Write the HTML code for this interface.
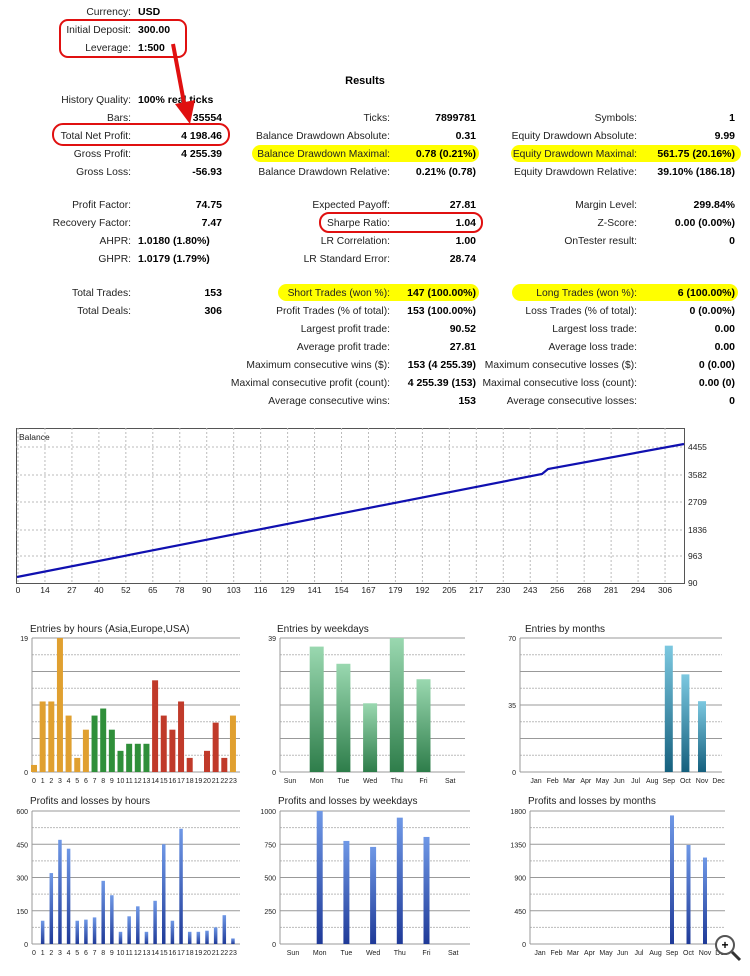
<!DOCTYPE html>
<html><head><meta charset="utf-8"><style>
html,body{margin:0;padding:0;background:#fff;width:750px;height:976px;overflow:hidden}
svg{display:block;font-family:"Liberation Sans",sans-serif}
.l{font-size:10.3px;fill:#222;text-anchor:end}
.v{font-size:10.5px;fill:#000;font-weight:bold;text-anchor:end}
.vl{font-size:10.5px;fill:#000;font-weight:bold}
.t{font-size:8.5px;fill:#222}
.ct{font-size:10px;fill:#222}
</style></head><body>
<svg id="s" width="750" height="976" viewBox="0 0 750 976" xmlns="http://www.w3.org/2000/svg">
<defs>
<linearGradient id="gg" x1="0" y1="0" x2="0" y2="1"><stop offset="0" stop-color="#9ad8b0"/><stop offset="1" stop-color="#2e7d4a"/></linearGradient>
<linearGradient id="gt" x1="0" y1="0" x2="0" y2="1"><stop offset="0" stop-color="#7cc8e0"/><stop offset="1" stop-color="#15607e"/></linearGradient>
<linearGradient id="gb" x1="0" y1="0" x2="0" y2="1"><stop offset="0" stop-color="#6f98e6"/><stop offset="1" stop-color="#1f3a98"/></linearGradient>
</defs>
<rect x="252" y="145" width="227" height="17" rx="8.5" fill="#ffff00"/>
<rect x="511" y="145" width="230" height="17" rx="8.5" fill="#ffff00"/>
<rect x="278" y="284" width="201" height="17" rx="8.5" fill="#ffff00"/>
<rect x="512" y="284" width="226" height="17" rx="8.5" fill="#ffff00"/>
<g id="txt"></g>
<text x="365" y="84" style="font-size:11px;font-weight:bold" text-anchor="middle">Results</text>
<rect x="60" y="20" width="126" height="37" rx="8" fill="none" stroke="#e01010" stroke-width="2"/>
<rect x="53" y="124" width="176" height="21" rx="10" fill="none" stroke="#e01010" stroke-width="2"/>
<rect x="320" y="213" width="162" height="19" rx="9" fill="none" stroke="#e01010" stroke-width="2"/>
<line x1="173" y1="44" x2="185" y2="108" stroke="#e01010" stroke-width="4"/>
<polygon points="175,104 195,100 190,124" fill="#e01010"/>
<g id="ch"></g>
</svg>
<script>
var NS="http://www.w3.org/2000/svg";
function el(p,n,a,tx){var e=document.createElementNS(NS,n);for(var k in a)e.setAttribute(k,a[k]);if(tx!=null)e.textContent=tx;p.appendChild(e);return e;}
var T=document.getElementById('txt'),C=document.getElementById('ch');
function L(x,y,s){el(T,'text',{x:x,y:y+4,'class':'l'},s);}
function V(x,y,s){el(T,'text',{x:x,y:y+4,'class':'v'},s);}
function VL(x,y,s){el(T,'text',{x:x,y:y+4,'class':'vl'},s);}
L(131,11,'Currency:');VL(138,11,'USD');
L(131,29,'Initial Deposit:');VL(138,29,'300.00');
L(131,47,'Leverage:');VL(138,47,'1:500');
L(131,99,'History Quality:');VL(138,99,'100% real ticks');
var c1=[[117,'Bars:','35554'],[135,'Total Net Profit:','4 198.46'],[153,'Gross Profit:','4 255.39'],[171,'Gross Loss:','-56.93'],[204,'Profit Factor:','74.75'],[222,'Recovery Factor:','7.47'],[292,'Total Trades:','153'],[310,'Total Deals:','306']];
c1.forEach(function(r){L(131,r[0],r[1]);V(222,r[0],r[2]);});
L(131,240,'AHPR:');VL(138,240,'1.0180 (1.80%)');
L(131,258,'GHPR:');VL(138,258,'1.0179 (1.79%)');
var c2=[[117,'Ticks:','7899781'],[135,'Balance Drawdown Absolute:','0.31'],[153,'Balance Drawdown Maximal:','0.78 (0.21%)'],[171,'Balance Drawdown Relative:','0.21% (0.78)'],[204,'Expected Payoff:','27.81'],[222,'Sharpe Ratio:','1.04'],[240,'LR Correlation:','1.00'],[258,'LR Standard Error:','28.74'],
[292,'Short Trades (won %):','147 (100.00%)'],[310,'Profit Trades (% of total):','153 (100.00%)'],[328,'Largest profit trade:','90.52'],[346,'Average profit trade:','27.81'],[364,'Maximum consecutive wins ($):','153 (4 255.39)'],[382,'Maximal consecutive profit (count):','4 255.39 (153)'],[400,'Average consecutive wins:','153']];
c2.forEach(function(r){L(390,r[0],r[1]);V(476,r[0],r[2]);});
var c3=[[117,'Symbols:','1'],[135,'Equity Drawdown Absolute:','9.99'],[153,'Equity Drawdown Maximal:','561.75 (20.16%)'],[171,'Equity Drawdown Relative:','39.10% (186.18)'],[204,'Margin Level:','299.84%'],[222,'Z-Score:','0.00 (0.00%)'],[240,'OnTester result:','0'],
[292,'Long Trades (won %):','6 (100.00%)'],[310,'Loss Trades (% of total):','0 (0.00%)'],[328,'Largest loss trade:','0.00'],[346,'Average loss trade:','0.00'],[364,'Maximum consecutive losses ($):','0 (0.00)'],[382,'Maximal consecutive loss (count):','0.00 (0)'],[400,'Average consecutive losses:','0']];
c3.forEach(function(r){L(637,r[0],r[1]);V(735,r[0],r[2]);});

var bx0=16,bx1=684,by0=428,by1=583;
el(C,'rect',{x:bx0+.5,y:by0+.5,width:bx1-bx0,height:by1-by0,fill:'#fff',stroke:'#555'});
var xl=[0,14,27,40,52,65,78,90,103,116,129,141,154,167,179,192,205,217,230,243,256,268,281,294,306];
xl.forEach(function(v,i){var x=18+i*26.96;el(C,'line',{x1:x,y1:by0,x2:x,y2:by1,stroke:'#bbb','stroke-dasharray':'2,2'});el(C,'text',{x:x,y:593,'class':'t','text-anchor':'middle'},v);});
var yl=[[4455,447],[3582,475],[2709,502],[1836,530],[963,556],[90,583]];
yl.forEach(function(r){if(r[1]<583)el(C,'line',{x1:bx0,y1:r[1],x2:bx1,y2:r[1],stroke:'#bbb','stroke-dasharray':'2,2'});el(C,'text',{x:688,y:r[1]+3,'class':'t'},r[0]);});
el(C,'text',{x:19,y:440,'class':'t'},'Balance');
el(C,'polyline',{points:'17,577 542,474 548,469 684,444',fill:'none',stroke:'#1010b0','stroke-width':2.2});

function bar(o){
  el(C,'text',{x:o.tx,y:o.ty,'class':'ct'},o.title);
  for(var i=0;i<=8;i++){var y=o.y0+(o.y1-o.y0)*i/8;el(C,'line',{x1:o.x0,y1:y,x2:o.x1,y2:y,stroke:i%2?'#bbb':'#999','stroke-dasharray':i%2?'2,1':'none'});}
  el(C,'line',{x1:o.x0,y1:o.y0,x2:o.x0,y2:o.y1,stroke:'#999'});
  o.yl.forEach(function(r){el(C,'text',{x:o.x0-4,y:o.y0+(o.y1-o.y0)*r[1]+3,'class':'t','text-anchor':'end',style:'font-size:7px'},r[0]);});
  o.labels.forEach(function(s,i){var x=o.lx0+i*o.step;el(C,'text',{x:x,y:o.y1+11,'class':'t','text-anchor':'middle',style:'font-size:7px'},s);
    var v=o.vals[i];if(v>0){var h=(o.y1-o.y0)*v/o.max;el(C,'rect',{x:x-o.w/2,y:o.y1-h,width:o.w,height:h,fill:o.col(i)});}});
}
var H=[];for(var i=0;i<24;i++)H.push(''+i);
bar({title:'Entries by hours (Asia,Europe,USA)',tx:30,ty:632,x0:32,x1:240,y0:638,y1:772,yl:[['19',0],['0',1]],labels:H,lx0:34,step:8.65,w:6,max:19,
 vals:[1,10,10,19,8,2,6,8,9,6,3,4,4,4,13,8,6,10,2,0,3,7,2,8],
 col:function(i){return i<7||i==23?'#e0a030':i<14?'#2f8f3a':'#c03a2a';}});
var W=['Sun','Mon','Tue','Wed','Thu','Fri','Sat'];
bar({title:'Entries by weekdays',tx:277,ty:632,x0:280,x1:465,y0:638,y1:772,yl:[['39',0],['0',1]],labels:W,lx0:290,step:26.7,w:14,max:39,
 vals:[0,36.5,31.5,20,39,27,0],col:function(){return 'url(#gg)';}});
var M=['Jan','Feb','Mar','Apr','May','Jun','Jul','Aug','Sep','Oct','Nov','Dec'];
bar({title:'Entries by months',tx:525,ty:632,x0:520,x1:722,y0:638,y1:772,yl:[['70',0],['35',.5],['0',1]],labels:M,lx0:536,step:16.6,w:8,max:70,
 vals:[0,0,0,0,0,0,0,0,66,51,37,0],col:function(){return 'url(#gt)';}});
bar({title:'Profits and losses by hours',tx:30,ty:804,x0:32,x1:240,y0:811,y1:944,yl:[['600',0],['450',.25],['300',.5],['150',.75],['0',1]],labels:H,lx0:34,step:8.65,w:3.5,max:600,
 vals:[0,105,320,470,430,105,110,120,285,220,55,125,170,55,195,450,105,520,55,55,60,75,130,25],col:function(){return 'url(#gb)';}});
bar({title:'Profits and losses by weekdays',tx:278,ty:804,x0:280,x1:470,y0:811,y1:944,yl:[['1000',0],['750',.25],['500',.5],['250',.75],['0',1]],labels:W,lx0:293,step:26.7,w:6,max:1000,
 vals:[0,1000,775,730,950,805,0],col:function(){return 'url(#gb)';}});
bar({title:'Profits and losses by months',tx:528,ty:804,x0:530,x1:725,y0:811,y1:944,yl:[['1800',0],['1350',.25],['900',.5],['450',.75],['0',1]],labels:M,lx0:540,step:16.5,w:4,max:1800,
 vals:[0,0,0,0,0,0,0,0,1740,1340,1170,0],col:function(){return 'url(#gb)';}});
el(C,'circle',{cx:725,cy:945,r:9,fill:'#fff',stroke:'#555','stroke-width':2});
el(C,'line',{x1:732,y1:952,x2:740,y2:960,stroke:'#333','stroke-width':3});
el(C,'text',{x:725,y:949,'text-anchor':'middle',style:'font-size:12px;font-weight:bold'},'+');
</script>
</body></html>
